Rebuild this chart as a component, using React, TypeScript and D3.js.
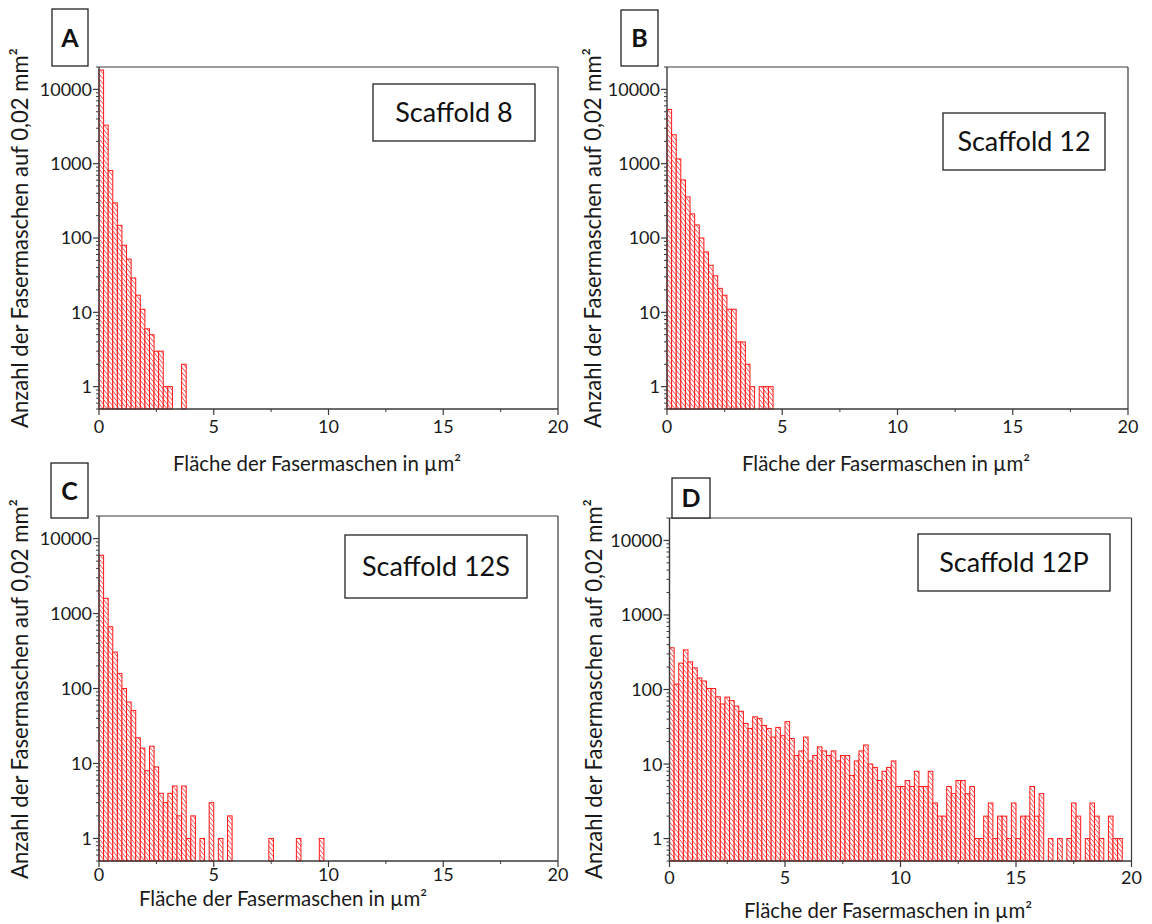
import React from "react";
import * as d3 from "d3";

// ---- data (bin width 0.2 µm², counts per bin, starting at 0) ----
const binWidth = 0.2;
const countsA = [18200, 3300, 810, 297, 148, 80, 52, 29, 17, 11, 6, 5, 3, 3, 1, 1, 0, 0, 2];
const countsB = [5370, 2450, 1160, 605, 357, 211, 150, 100, 65, 43, 31, 21, 17, 11, 11, 4, 4, 2, 1, 0, 1, 1, 1];
const countsC = [
  5990, 1595, 667, 306, 159, 100, 66, 51, 22, 16, 8, 17, 9, 4, 3, 4, 5, 2, 5, 1,
  2, 0, 1, 0, 3, 0, 1, 0, 2, 0, 0, 0, 0, 0, 0, 0, 0, 1, 0, 0,
  0, 0, 0, 1, 0, 0, 0, 0, 1,
];
const countsD = [
  363, 118, 226, 340, 235, 195, 143, 130, 103, 103, 80, 64, 79, 71, 60, 51, 35, 30, 43, 41,
  33, 30, 23, 31, 24, 37, 22, 13, 15, 23, 11, 13, 17, 15, 13, 15, 11, 13, 13, 7,
  11, 15, 18, 10, 9, 6, 8, 9, 11, 5, 5, 6, 5, 8, 5, 5, 8, 3, 2, 2,
  5, 4, 6, 6, 4, 5, 1, 1, 2, 3, 1, 2, 2, 1, 3, 1, 2, 2, 5, 2,
  4, 0, 1, 0, 1, 0, 1, 3, 2, 0, 1, 3, 2, 1, 0, 2, 1, 1,
];
const xDomain = [0, 20];
const yDomain = [0.5, 20000];
const xTicks = [0, 5, 10, 15, 20];
const xMinorTicks = [2.5, 7.5, 12.5, 17.5];
const yTicks = [1, 10, 100, 1000, 10000];
const panelLetters = ["A", "B", "C", "D"];
const scaffoldNames = ["Scaffold 8", "Scaffold 12", "Scaffold 12S", "Scaffold 12P"];
const xTitle = "Fläche der Fasermaschen in µm²";
const yTitle = "Anzahl der Fasermaschen auf 0,02 mm²";

// ---- layout ----
const layouts = [
  { left: 99, right: 558, top: 67, bottom: 409, letterBox: [52, 9, 36, 57], nameBox: [373, 84, 162, 57], xTitleX: 317, xTitleY: 471, tickY: 433, yTitleX: 20, yTitleY: 238 },
  { left: 667, right: 1128, top: 67, bottom: 409, letterBox: [621, 10, 37, 56], nameBox: [943, 113, 162, 57], xTitleX: 886, xTitleY: 471, tickY: 433, yTitleX: 593, yTitleY: 238 },
  { left: 99, right: 558, top: 516, bottom: 861, letterBox: [51, 463, 37, 55], nameBox: [345, 535, 182, 63], xTitleX: 283, xTitleY: 906, tickY: 881, yTitleX: 20, yTitleY: 689 },
  { left: 669.5, right: 1131.5, top: 518, bottom: 861, letterBox: [672, 478, 38, 40], nameBox: [918, 534, 192, 57], xTitleX: 888, xTitleY: 918, tickY: 884, yTitleX: 594, yTitleY: 689 },
];
const allCounts = [countsA, countsB, countsC, countsD];

const FONT = "Lato, 'Open Sans', sans-serif";
const AXIS = "#3a3a3a";
const RED = "#ff1a1a";

function Panel({ counts, layout, letter, name }) {
  const x = d3.scaleLinear().domain(xDomain).range([layout.left, layout.right]);
  const y = d3.scaleLog().domain(yDomain).range([layout.bottom, layout.top]);
  const bars = counts
    .map((c, i) => ({ x0: i * binWidth, x1: (i + 1) * binWidth, c }))
    .filter((d) => d.c > 0);
  const minor: number[] = [];
  for (let e = -1; e <= 4; e++) {
    for (let k = 2; k <= 9; k++) {
      const v = k * Math.pow(10, e);
      if (v >= yDomain[0] - 1e-9 && v <= yDomain[1] + 1e-9) minor.push(v);
    }
  }
  const [lx, ly, lw, lh] = layout.letterBox;
  const [nx, ny, nw, nh] = layout.nameBox;
  return (
    <g>
      {bars.map((d, i) => (
        <rect
          key={i}
          x={x(d.x0)}
          y={y(d.c)}
          width={x(d.x1) - x(d.x0)}
          height={layout.bottom - y(d.c)}
          fill="url(#hatch)"
          stroke={RED}
          strokeWidth={1}
        />
      ))}
      {/* frame */}
      <line x1={layout.left} x2={layout.right} y1={layout.top} y2={layout.top} stroke={AXIS} strokeWidth={1.2} />
      <line x1={layout.right} x2={layout.right} y1={layout.top} y2={layout.bottom} stroke={AXIS} strokeWidth={1.2} />
      <line x1={layout.left} x2={layout.left} y1={layout.top} y2={layout.bottom} stroke={AXIS} strokeWidth={1.4} />
      <line x1={layout.left} x2={layout.right} y1={layout.bottom} y2={layout.bottom} stroke={AXIS} strokeWidth={1.4} />
      {/* y ticks */}
      {minor.map((v, i) => (
        <line key={"m" + i} x1={layout.left - 3} x2={layout.left} y1={y(v)} y2={y(v)} stroke={AXIS} strokeWidth={1} />
      ))}
      {yTicks.map((v) => (
        <g key={"y" + v}>
          <line x1={layout.left - 6} x2={layout.left} y1={y(v)} y2={y(v)} stroke={AXIS} strokeWidth={1.2} />
          <text x={layout.left - 7} y={y(v)} dy="0.36em" textAnchor="end" fontFamily={FONT} fontSize={18} fill="#1a1a1a">
            {d3.format("d")(v)}
          </text>
        </g>
      ))}
      {/* x ticks */}
      {xMinorTicks.map((v) => (
        <line key={"xm" + v} x1={x(v)} x2={x(v)} y1={layout.bottom} y2={layout.bottom + 3} stroke={AXIS} strokeWidth={1} />
      ))}
      {xTicks.map((v) => (
        <g key={"x" + v}>
          <line x1={x(v)} x2={x(v)} y1={layout.bottom} y2={layout.bottom + 6} stroke={AXIS} strokeWidth={1.2} />
          <text x={x(v)} y={layout.tickY} textAnchor="middle" fontFamily={FONT} fontSize={18} fill="#1a1a1a">
            {v}
          </text>
        </g>
      ))}
      {/* titles */}
      <text x={layout.xTitleX} y={layout.xTitleY} textAnchor="middle" fontFamily={FONT} fontSize={21} fill="#1a1a1a" textLength={288} lengthAdjust="spacingAndGlyphs">
        {xTitle}
      </text>
      <text
        transform={`translate(${layout.yTitleX},${layout.yTitleY}) rotate(-90)`}
        dy="0.36em"
        textAnchor="middle"
        fontFamily={FONT}
        fontSize={23}
        fill="#1a1a1a"
        textLength={380}
        lengthAdjust="spacingAndGlyphs"
      >
        {yTitle}
      </text>
      {/* letter box */}
      <rect x={lx} y={ly} width={lw} height={lh} fill="#fff" stroke="#222" strokeWidth={1.3} />
      <text x={lx + lw / 2} y={ly + lh / 2} dy="0.36em" textAnchor="middle" fontFamily={FONT} fontWeight="bold" fontSize={25} fill="#111">
        {letter}
      </text>
      {/* name box */}
      <rect x={nx} y={ny} width={nw} height={nh} fill="#fff" stroke="#222" strokeWidth={1.3} />
      <text x={nx + nw / 2} y={ny + nh / 2} dy="0.36em" textAnchor="middle" fontFamily={FONT} fontSize={27} fill="#111">
        {name}
      </text>
    </g>
  );
}

export default function App() {
  return (
    <svg width={1152} height={924} style={{ position: "absolute", left: 0, top: 0, background: "#fff" }}>
      <defs>
        <pattern id="hatch" patternUnits="userSpaceOnUse" width={4} height={5}>
          <rect width={4} height={5} fill="#fff" />
          <line x1={0} y1={0} x2={4} y2={5} stroke={RED} strokeWidth={0.8} />
          <line x1={-4} y1={0} x2={0} y2={5} stroke={RED} strokeWidth={0.8} />
          <line x1={4} y1={0} x2={8} y2={5} stroke={RED} strokeWidth={0.8} />
        </pattern>
      </defs>
      <rect width={1152} height={924} fill="#fff" />
      {layouts.map((l, i) => (
        <Panel key={i} counts={allCounts[i]} layout={l} letter={panelLetters[i]} name={scaffoldNames[i]} />
      ))}
    </svg>
  );
}
